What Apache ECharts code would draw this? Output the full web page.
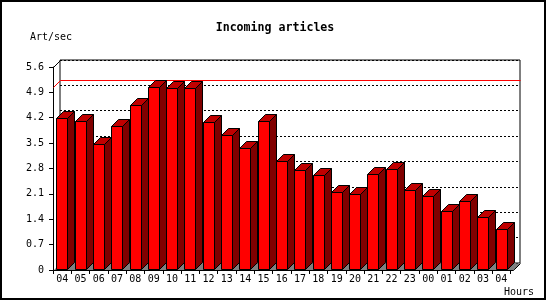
<!DOCTYPE html>
<html>
<head>
<meta charset="utf-8">
<script src="https://cdn.jsdelivr.net/npm/echarts@6/dist/echarts.min.js"></script>
<style>
  html, body { margin: 0; padding: 0; background: #fff; }
  #chart { width: 550px; height: 300px; }
</style>
</head>
<body>
<div id="chart"></div>
<script>
// ---- data ----
const hours = ['04','05','06','07','08','09','10','11','12','13','14','15','16','17','18','19','20','21','22','23','00','01','02','03','04'];
const artPerSec = [4.18,4.10,3.47,3.96,4.54,5.05,5.01,5.01,4.08,3.72,3.37,4.11,3.00,2.75,2.61,2.14,2.09,2.64,2.78,2.20,2.03,1.62,1.90,1.45,1.12];
const peakRate = 5.05;
const yMin = 0, yMax = 5.6, yStep = 0.7;
const titleText = 'Incoming articles';
const yUnit = 'Art/sec';
const xUnit = 'Hours';

// ---- style ----
const D = 7;               // 3D depth offset (px)
const FONT = 'DejaVu Sans Mono';

const chart = echarts.init(document.getElementById('chart'), null, { renderer: 'canvas' });

function px(v) { return Math.round(v) + 0.5; }

const barData = artPerSec.map((v, i) => [i, v]);

const option = {
  animation: false,
  backgroundColor: '#fff',
  title: {
    text: titleText,
    left: 'center',
    top: 17,
    textStyle: { fontFamily: FONT, fontWeight: 'bold', fontSize: 11.6, color: '#000' }
  },
  graphic: [
    { type: 'rect', shape: { x: 1, y: 1, width: 544, height: 298 },
      style: { fill: null, stroke: '#000', lineWidth: 2 }, z: 100 },
    { type: 'text', x: 30, y: 37,
      style: { text: yUnit, fontFamily: FONT, fontSize: 10, fill: '#000', textVerticalAlign: 'middle' } },
    { type: 'text', x: 504, y: 292,
      style: { text: xUnit, fontFamily: FONT, fontSize: 10, fill: '#000', textVerticalAlign: 'middle' } }
  ],
  grid: [
    { // back wall
      left: 60, top: 60, width: 460, height: 203,
      show: true, borderColor: '#000', borderWidth: 1, backgroundColor: 'transparent', z: 0
    },
    { // front plane
      left: 53, top: 67, width: 457.5, height: 203, z: 5
    }
  ],
  xAxis: [
    { type: 'value', gridIndex: 0, min: 0, max: 1, show: false },
    {
      type: 'category', gridIndex: 1, data: hours, boundaryGap: true,
      axisLine: { show: false },
      axisTick: { show: true, length: 4, lineStyle: { color: '#000', width: 1 } },
      axisLabel: { fontFamily: FONT, fontSize: 10, color: '#000', margin: 4, interval: 0 },
      splitLine: { show: false }
    }
  ],
  yAxis: [
    {
      type: 'value', gridIndex: 0, min: yMin, max: yMax, interval: yStep,
      axisLine: { show: false }, axisTick: { show: false }, axisLabel: { show: false },
      splitLine: { show: true, lineStyle: { color: '#000', width: 1, type: [2, 2] } }
    },
    {
      type: 'value', gridIndex: 1, min: yMin, max: yMax, interval: yStep,
      axisLine: { show: true, lineStyle: { color: '#000', width: 1 } },
      axisTick: { show: true, length: 4, lineStyle: { color: '#000', width: 1 } },
      axisLabel: {
        fontFamily: FONT, fontSize: 10, color: '#000', margin: 9,
        formatter: v => (v === 0 ? '0' : v.toFixed(1))
      },
      splitLine: { show: false }
    }
  ],
  series: [
    { // floor, wall edges and peak line (in back-wall coordinates)
      type: 'custom', xAxisIndex: 0, yAxisIndex: 0, z: 1,
      data: [[0, peakRate]],
      renderItem: function (params, api) {
        const cs = params.coordSys;
        const L = px(cs.x), T = px(cs.y), R = px(cs.x + cs.width), B = px(cs.y + cs.height);
        const py = px(api.coord([0, api.value(1)])[1]);
        const black = { stroke: '#000', lineWidth: 1, fill: null };
        return {
          type: 'group',
          children: [
            { type: 'polygon', shape: { points: [[L, B], [R, B], [R - D, B + D], [L - D, B + D]] },
              style: { fill: '#808080', stroke: null } },
            { type: 'polyline', shape: { points: [[L - D, B + D], [R - D, B + D], [R, B]] }, style: black },
            { type: 'polyline', shape: { points: [[L - D, T + D], [L, T]] }, style: black },
            { type: 'polyline', shape: { points: [[L - D, py + D], [L, py], [R, py]] },
              style: { stroke: '#ff0000', lineWidth: 1, fill: null } }
          ]
        };
      }
    },
    { // 3D bars (front-plane coordinates)
      type: 'custom', xAxisIndex: 1, yAxisIndex: 1, z: 3,
      data: barData,
      renderItem: function (params, api) {
        const i = api.value(0), v = api.value(1);
        const top = api.coord([i, v]);
        const base = api.coord([i, 0]);
        const w = 11;
        const x0 = px(top[0] - w / 2 - 0.3);
        const x1 = x0 + w;
        const yT = px(top[1]);
        const yB = px(base[1]) - 1;
        const st = { stroke: '#000', lineWidth: 1 };
        return {
          type: 'group',
          children: [
            { type: 'polygon', shape: { points: [[x1, yB], [x1 + D, yB - D], [x1 + D, yB]] },
              style: { fill: '#808080', stroke: null } },
            { type: 'polygon', shape: { points: [[x1, yT], [x1 + D, yT - D], [x1 + D, yB - D], [x1, yB]] },
              style: Object.assign({ fill: '#800000' }, st) },
            { type: 'polygon', shape: { points: [[x0, yT], [x0 + D, yT - D], [x1 + D, yT - D], [x1, yT]] },
              style: Object.assign({ fill: '#c00000' }, st) },
            { type: 'rect', shape: { x: x0, y: yT, width: w, height: yB - yT },
              style: Object.assign({ fill: '#ff0000' }, st) }
          ]
        };
      }
    }
  ]
};

chart.setOption(option);
</script>
</body>
</html>
